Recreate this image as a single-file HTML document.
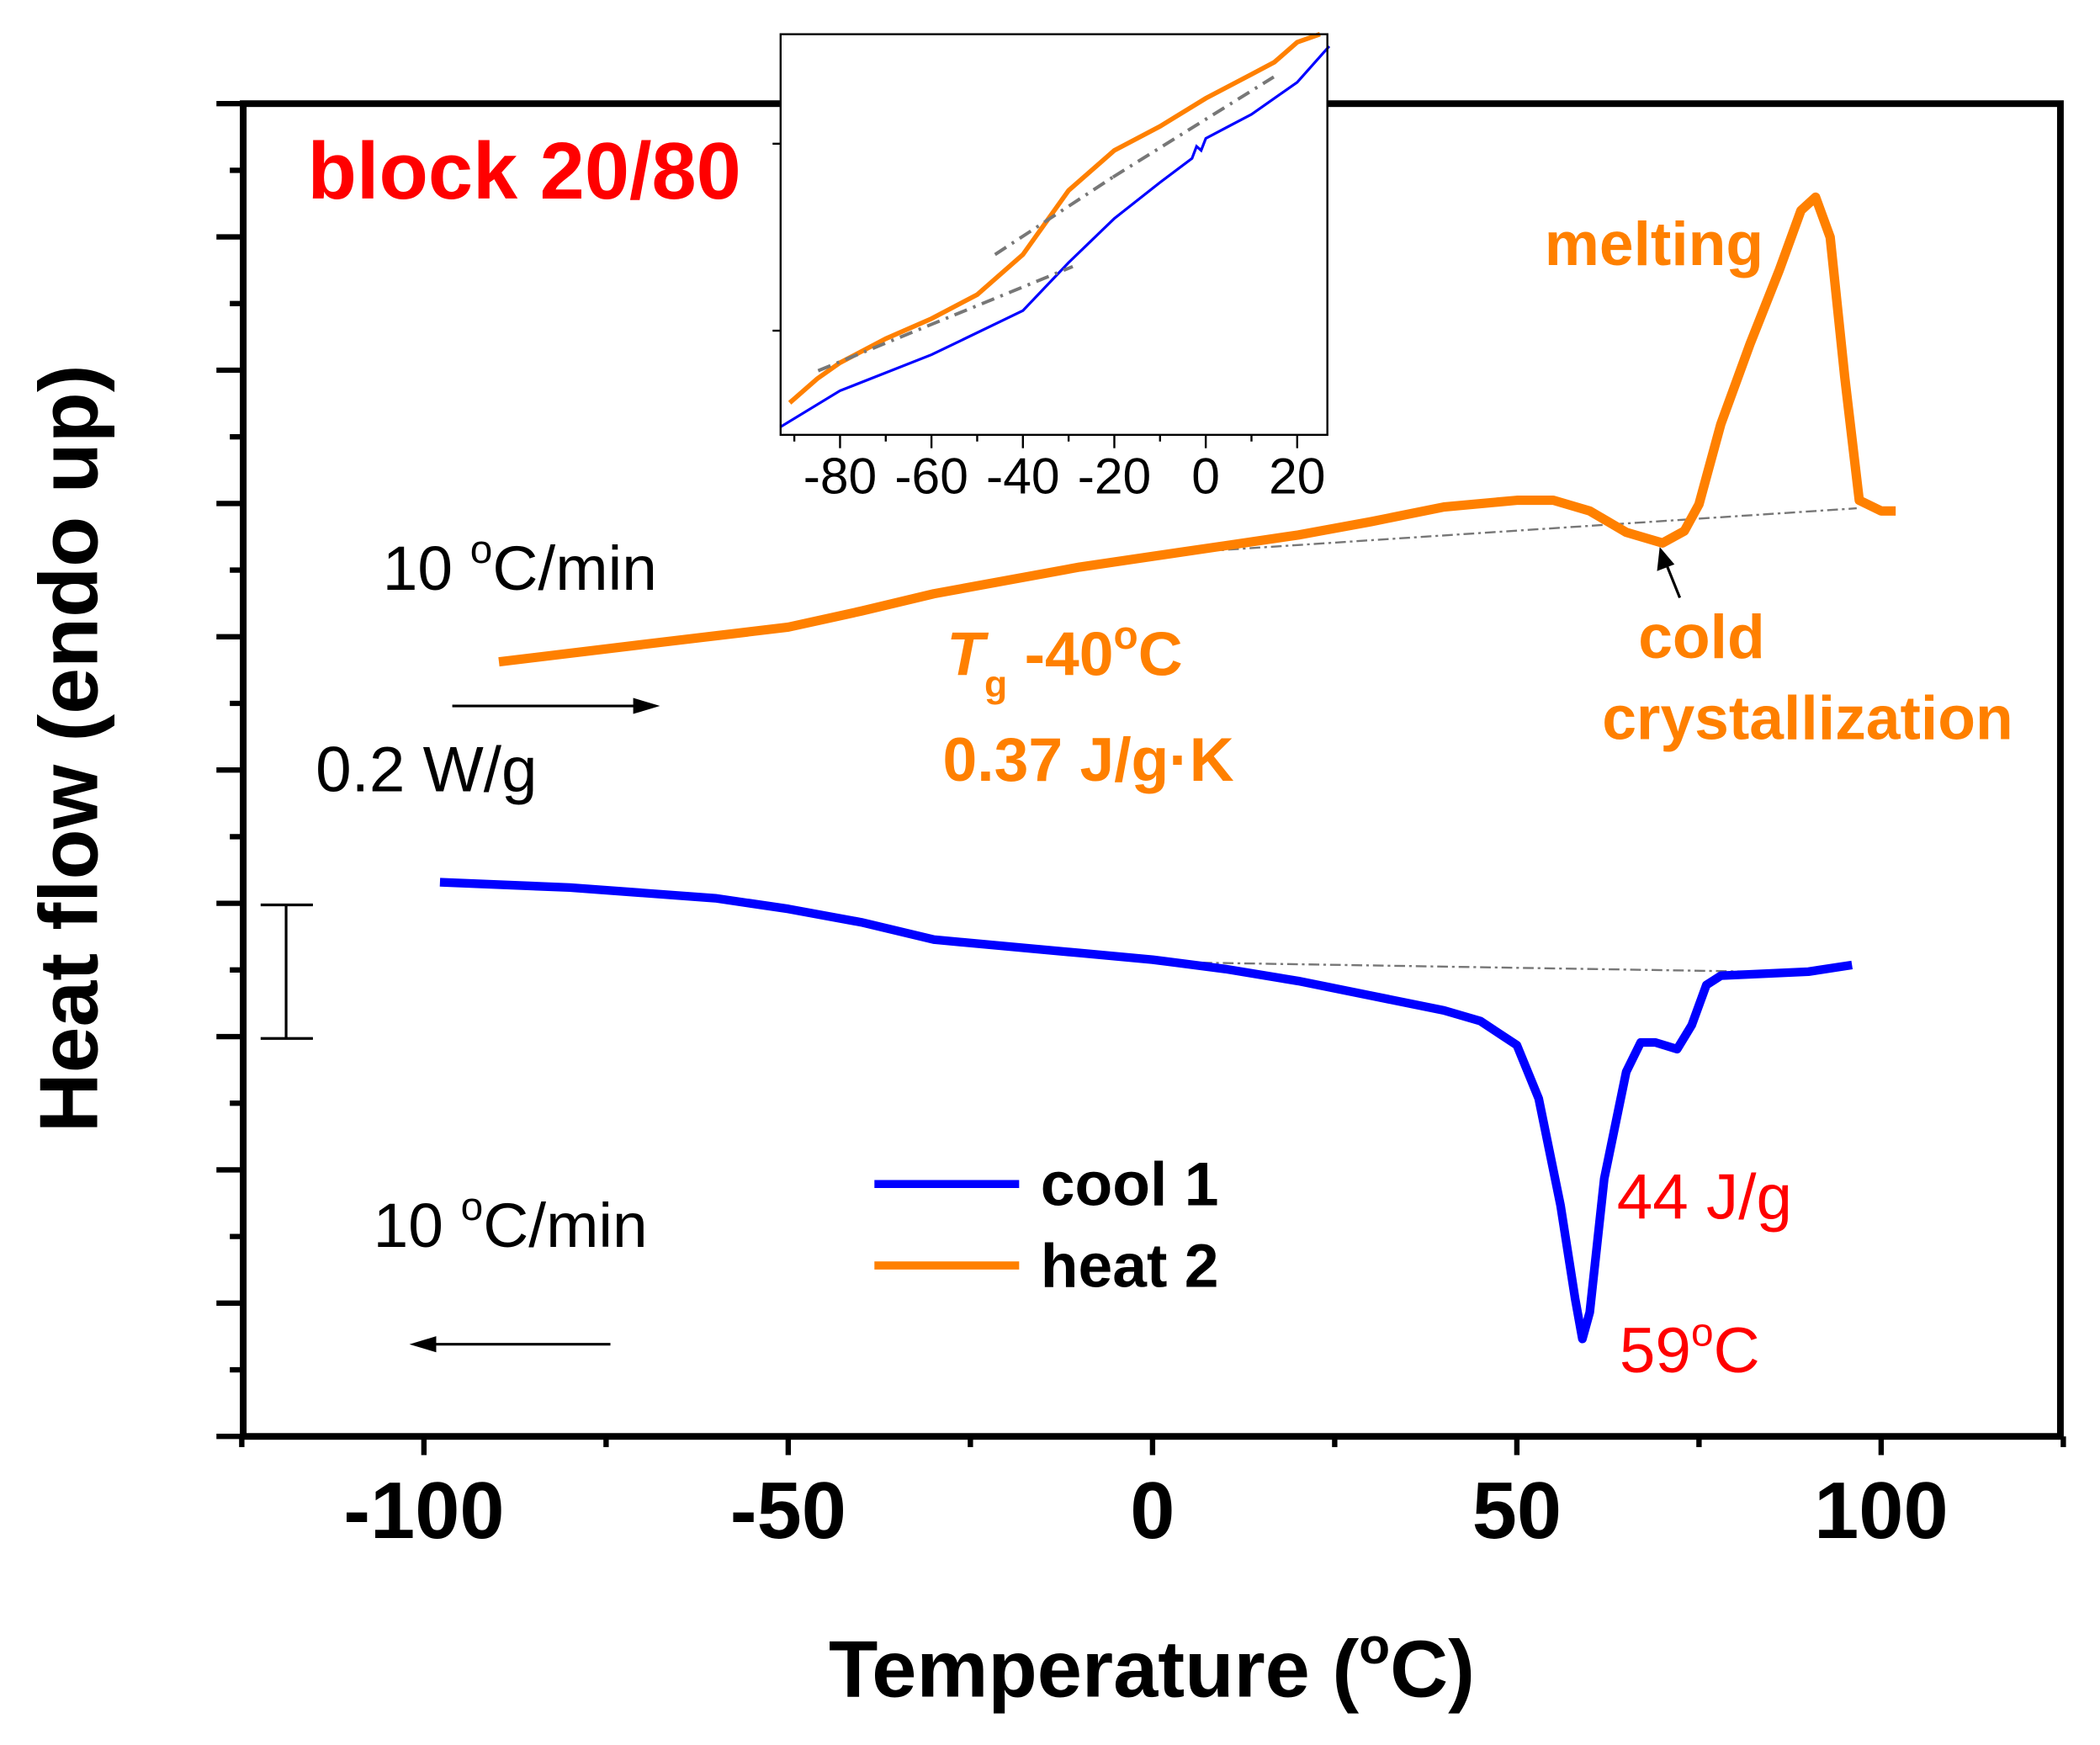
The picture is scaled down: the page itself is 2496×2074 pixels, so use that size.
<!DOCTYPE html>
<html><head><meta charset="utf-8"><style>
html,body{margin:0;padding:0;background:#fff}
svg{display:block}
text{font-family:"Liberation Sans",Arial,sans-serif}
</style></head><body>
<svg id="chart" xmlns="http://www.w3.org/2000/svg" width="2496" height="2074" viewBox="0 0 1560 1296.25">
<rect width="1560" height="1296.25" fill="#fff"/>
<g transform="translate(0.5,2.6) scale(0.9955,0.992)">
<g id="main"></g>
<g id="inset"></g>
<text x="229" y="146" font-size="60" font-weight="bold" fill="#ff0000">block 20/80</text>
<text x="285" y="439" font-size="47">10 <tspan dy="-20" font-size="30">o</tspan><tspan dy="20">C/min</tspan></text>
<text x="278" y="931" font-size="47">10 <tspan dy="-20" font-size="30">o</tspan><tspan dy="20">C/min</tspan></text>
<line x1="337" y1="526" x2="480" y2="526" stroke="#000" stroke-width="2"/>
<polygon points="492,526 472,520 472,532" fill="#000"/>
<line x1="455" y1="1004" x2="318" y2="1004" stroke="#000" stroke-width="2"/>
<polygon points="305,1004 325,998 325,1010" fill="#000"/>
<text x="235" y="590" font-size="48">0.2 W/g</text>
<g stroke="#000" stroke-width="2">
<line x1="213" y1="675" x2="213" y2="775"/><line x1="194" y1="675" x2="233" y2="675"/><line x1="194" y1="775" x2="233" y2="775"/></g>
<text x="706" y="503" font-size="46" font-weight="bold" fill="#ff8000"><tspan font-style="italic">T</tspan><tspan dy="16" font-size="28">g</tspan><tspan dy="-16">  -40</tspan><tspan dy="-20" font-size="30">o</tspan><tspan dy="20">C</tspan></text>
<text x="703" y="582" font-size="46" font-weight="bold" fill="#ff8000">0.37 J/g·K</text>
<text x="1152" y="196" font-size="46" font-weight="bold" fill="#ff8000">melting</text>
<text x="1222" y="490" font-size="46" font-weight="bold" fill="#ff8000">cold</text>
<text x="1195" y="551" font-size="46" font-weight="bold" fill="#ff8000">crystallization</text>
<line x1="1253" y1="445" x2="1243" y2="420" stroke="#000" stroke-width="2"/>
<polygon points="1238,407 1236,425 1249,420" fill="#000"/>
<text x="1206" y="910" font-size="48" fill="#ff0000">44 J/g</text>
<text x="1208" y="1025" font-size="48" fill="#ff0000">59<tspan dy="-20" font-size="30">o</tspan><tspan dy="20">C</tspan></text>
<g>
<line x1="652" y1="884" x2="760" y2="884" stroke="#0000ff" stroke-width="6"/>
<text x="776" y="900" font-size="46" font-weight="bold">cool 1</text>
<line x1="652" y1="945" x2="760" y2="945" stroke="#ff8000" stroke-width="6"/>
<text x="776" y="961" font-size="46" font-weight="bold">heat 2</text></g>
<text x="859" y="1268" font-size="60" font-weight="bold" text-anchor="middle">Temperature (<tspan dy="-25" font-size="38">o</tspan><tspan dy="25">C)</tspan></text>
<text transform="translate(72,558) rotate(-90)" font-size="62" font-weight="bold" text-anchor="middle">Heat flow (endo up)</text>
</g>
</svg>
<script>
const heatT=[-89.7,-70,-50,-40,-30,-20,-10,0,10,20,30,40,50,55,60,65,70,73,75,78,82,86,89,91,93,95,97,100,102];
const heatY=[493,480,467,455,442,432,422,414,406,398,388,377,372,372,380,396,404,395,375,315,255,200,155,145,175,280,372,380,380].map(p=>(1073-p)/499);
const coolT=[-97.8,-80,-60,-50,-40,-30,-20,-10,0,10,20,30,40,45,50,53,56,58,59,60,62,65,67,69,72,74,76,78,90,96];
const coolY=[658,662,670,678,688,701,706,711,716,723,732,743,754,762,780,820,900,970,1000,980,880,800,778,778,783,765,735,728,725,720].map(p=>(1073-p)/499);
const xTicks=[-100,-50,0,50,100];
const insetXTicks=[-80,-60,-40,-20,0,20];
const insetHeatT=[-91,-85,-80,-70,-60,-50,-40,-30,-20,-10,0,10,15,20,25];
const insetHeatY=[0.08,0.14,0.18,0.24,0.29,0.35,0.45,0.61,0.71,0.77,0.84,0.9,0.93,0.98,1.0];
const insetCoolT=[-93,-80,-60,-40,-30,-20,-10,-3,-2,-1,0,5,10,20,27];
const insetCoolY=[0.02,0.11,0.2,0.31,0.43,0.54,0.63,0.69,0.72,0.71,0.74,0.77,0.8,0.88,0.97];
const NS='http://www.w3.org/2000/svg';
const X=t=>181+(t+124.8)*(1537-181)/249.4;
const Y=v=>1073-v*499;
function mk(tag,attrs,parent){const e=document.createElementNS(NS,tag);for(const k in attrs)e.setAttribute(k,attrs[k]);parent.appendChild(e);return e;}
const g=document.getElementById('main');
function line(xs,ys,fx,fy){return xs.map((t,i)=>(i?'L':'M')+fx(t).toFixed(1)+','+fy(ys[i]).toFixed(1)).join('');}
let b1=mk('path',{d:'M900,410L1385,378',stroke:'#777',fill:'none','stroke-width':1.5,'stroke-dasharray':'8,3,2,3'},g);


let b2=mk('path',{d:'M880,718L1310,725',stroke:'#777',fill:'none','stroke-width':1.5,'stroke-dasharray':'8,3,2,3'},g);


let hp=mk('path',{d:line(heatT,heatY,X,Y),stroke:'#ff8000',fill:'none','stroke-width':7,'stroke-linejoin':'round'},g);


let cp=mk('path',{d:line(coolT,coolY,X,Y),stroke:'#0000ff',fill:'none','stroke-width':6.5,'stroke-linejoin':'round'},g);


let frame=mk('rect',{x:181,y:75,width:1356,height:998,fill:'none',stroke:'#000','stroke-width':5},g);


for(let v=0;v<=2.001;v+=0.1){const y=Y(v);const major=Math.round(v*10)%2===0;mk('line',{x1:181,y1:y,x2:181-(major?20:10),y2:y,stroke:'#000','stroke-width':4},g);}
for(let t=-125;t<=125;t+=25){const x=X(t);mk('line',{x1:x,y1:1073,x2:x,y2:1073+(t%50===0?14:8),stroke:'#000','stroke-width':4},g);}
xTicks.forEach(t=>{const tx=mk('text',{x:X(t),y:1149,'font-size':60,'font-weight':'bold','text-anchor':'middle'},g);tx.textContent=t;

});
const ig=document.getElementById('inset');
const IX=t=>582+(t+93)*(990-582)/119.6;
const IY=v=>323-v*300;
mk('rect',{x:582,y:23,width:408,height:300,fill:'#fff'},ig);
let ih=mk('path',{d:line(insetHeatT,insetHeatY,IX,IY),stroke:'#ff8000',fill:'none','stroke-width':3.5},ig);


let ic=mk('path',{d:line(insetCoolT,insetCoolY,IX,IY),stroke:'#0000ff',fill:'none','stroke-width':2},ig);


mk('path',{d:'M742,188L830,130M610,275L800,197M830,130L950,55',stroke:'#777',fill:'none','stroke-width':2.5,'stroke-dasharray':'10,5,2,5'},ig);
let ifr=mk('rect',{x:582,y:23,width:408,height:300,fill:'none',stroke:'#000','stroke-width':1.5},ig);


mk('line',{x1:582,y1:105,x2:576,y2:105,stroke:'#000','stroke-width':1.5},ig);
mk('line',{x1:582,y1:245,x2:576,y2:245,stroke:'#000','stroke-width':1.5},ig);
for(let t=-90;t<=25;t+=10){const x=IX(t);mk('line',{x1:x,y1:323,x2:x,y2:t%20===0?333:328,stroke:'#000','stroke-width':1.5},ig);}
insetXTicks.forEach(t=>{const tx=mk('text',{x:IX(t),y:367,'font-size':38,'text-anchor':'middle'},ig);tx.textContent=t;

});
</script>
</body></html>
